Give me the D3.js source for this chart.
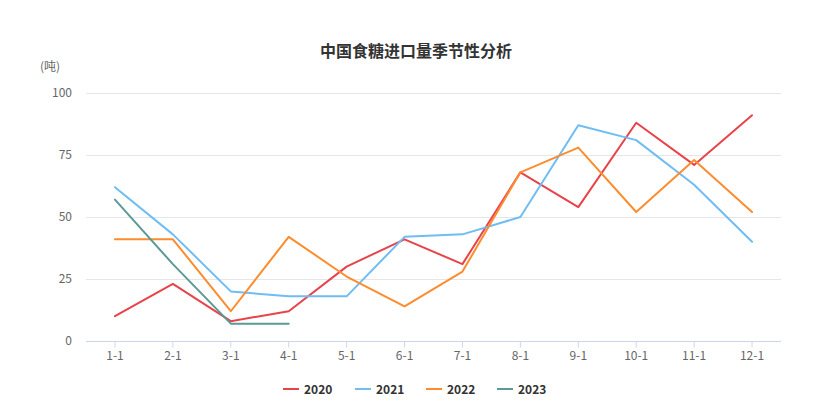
<!DOCTYPE html>
<html>
<head>
<meta charset="utf-8">
<script src="https://cdn.jsdelivr.net/npm/d3@7"></script>
<style>
html,body{margin:0;padding:0;background:#fff;}
svg{display:block;font-family:"Noto Sans CJK SC","Noto Sans",sans-serif;}
</style>
</head>
<body>
<svg id="chart" width="834" height="413"></svg>
<script>
const categories = ["1-1","2-1","3-1","4-1","5-1","6-1","7-1","8-1","9-1","10-1","11-1","12-1"];
const seriesNames = ["2020","2021","2022","2023"];
const values2020 = [10,23,8,12,30,41,31,68,54,88,71,91];
const values2021 = [62,43,20,18,18,42,43,50,87,81,63,40];
const values2022 = [41,41,12,42,26,14,28,68,78,52,73,52];
const values2023 = [57,31,7,7];
const yTicks = [0,25,50,75,100];
const colors = ["#e8434a","#6fbdf2","#fd8c2f","#5b9a97"];

const allValues = [values2020, values2021, values2022, values2023];
const svg = d3.select("#chart");
const margin = {left:86, right:53, top:93, bottom:72};
const W = 834, H = 413;

const x = d3.scaleBand().domain(categories).range([margin.left, W - margin.right]);
const y = d3.scaleLinear().domain([0,100]).range([H - margin.bottom, margin.top]);

// title
svg.append("text").attr("x", 416).attr("y", 57).attr("text-anchor","middle")
  .attr("font-size",16).attr("font-weight","bold").attr("fill","#333")
  .text("中国食糖进口量季节性分析");
svg.append("text").attr("x", 40).attr("y", 71).attr("font-size",12).attr("fill","#666").text("(吨)");

// grid
svg.append("g").selectAll("line").data(yTicks.filter(d=>d>0)).join("line")
  .attr("x1", margin.left).attr("x2", W - margin.right)
  .attr("y1", d=>y(d)+0.5).attr("y2", d=>y(d)+0.5)
  .attr("stroke","#e6e6e6").attr("stroke-width",1);

// y labels
svg.append("g").selectAll("text").data(yTicks).join("text")
  .attr("x", 72).attr("y", d=>y(d)+4).attr("text-anchor","end")
  .attr("font-size",12).attr("fill","#666").text(d=>d);

// x axis
const xAxis = d3.axisBottom(x).tickSize(6).tickPadding(4);
const gx = svg.append("g").attr("transform", `translate(0,${y(0)+0.5})`).call(xAxis);
gx.select(".domain").attr("stroke","#ccd6eb").attr("d", `M${margin.left},0H${W - margin.right}`);
gx.selectAll(".tick line").attr("stroke","#ccd6eb");
gx.selectAll(".tick text").attr("fill","#666").attr("font-size",12)
  .attr("font-family",'"Noto Sans CJK SC","Noto Sans",sans-serif');

// lines
const line = d3.line().x((d,i)=>x(categories[i]) + x.bandwidth()/2).y(d=>y(d));
svg.append("g").selectAll("path").data(allValues).join("path")
  .attr("d", d=>line(d)).attr("fill","none")
  .attr("stroke",(d,i)=>colors[i]).attr("stroke-width",2)
  .attr("stroke-linejoin","round").attr("stroke-linecap","round");

// legend
const legendX = [283, 355, 426, 497];
const lg = svg.append("g").selectAll("g").data(seriesNames).join("g")
  .attr("transform",(d,i)=>`translate(${legendX[i]},389)`);
lg.append("line").attr("x1",0).attr("x2",16).attr("y1",0).attr("y2",0)
  .attr("stroke",(d,i)=>colors[i]).attr("stroke-width",2);
lg.append("text").attr("x",21).attr("y",4.5).attr("font-size",12).attr("font-weight","bold")
  .attr("fill","#333").text(d=>d);
</script>
</body>
</html>
